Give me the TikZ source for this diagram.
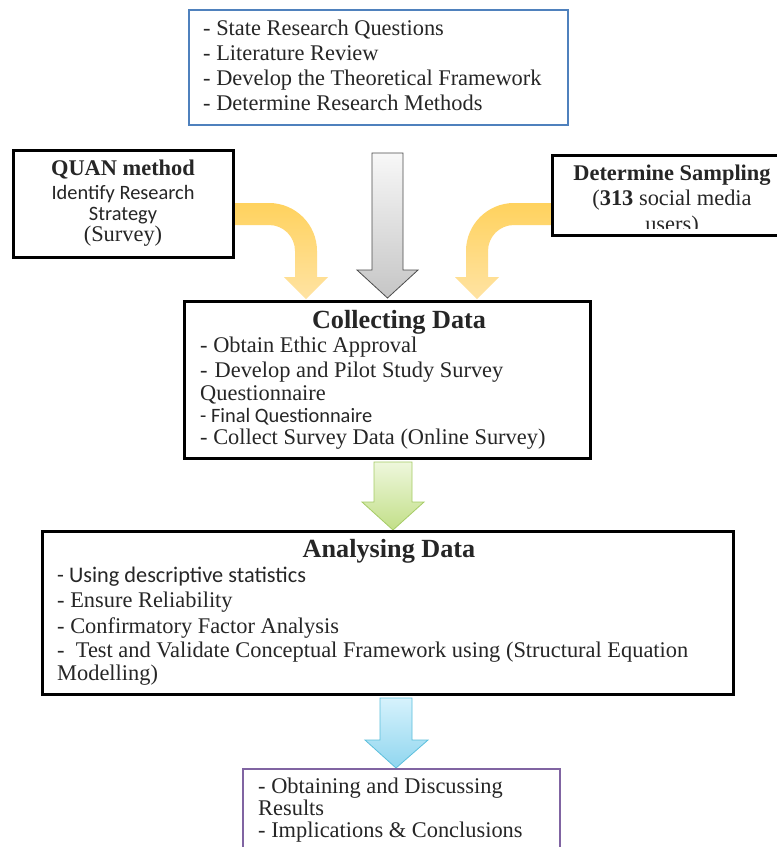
\documentclass[tikz,border=0pt]{standalone}
\usepackage{fontspec}
\setmainfont{Liberation Serif}
\newfontfamily\calfont{Carlito}
\newcommand\serifsz{\fontsize{22.4}{25}\selectfont}
\newcommand\titlesz{\fontsize{26.2}{29}\selectfont\bfseries}
\newcommand\sanssz{\calfont\fontsize{20.4}{25}\selectfont}
\newcommand\sansbig{\calfont\fontsize{22.3}{25}\selectfont}
\definecolor{topblue}{HTML}{4F81BD}
\definecolor{respurple}{HTML}{8064A2}
\definecolor{yelA}{HTML}{FFD25E}
\definecolor{yelB}{HTML}{FFE3A3}
\definecolor{grnA}{HTML}{EEF7DC}
\definecolor{grnB}{HTML}{C2DF88}
\definecolor{grnL}{HTML}{A6CC66}
\definecolor{bluA}{HTML}{D6F2FC}
\definecolor{bluB}{HTML}{90D6EF}
\definecolor{bluL}{HTML}{5BBFDC}
\begin{document}
\begin{tikzpicture}[x=1pt,y=-1pt,
  frame/.style={draw=black, line width=3pt, fill=white, inner sep=0pt, rectangle},
  ln/.style={anchor=base west, inner sep=0pt, font=\serifsz, text=black!85},
  lnc/.style={anchor=base, inner sep=0pt, font=\serifsz, text=black!85},
  sln/.style={anchor=base west, inner sep=0pt, font=\sanssz, text=black!85},
  slnc/.style={anchor=base, inner sep=0pt, font=\sanssz, text=black!85},
  yarrow/.style={top color=yelA, bottom color=yelB, draw=none},
  garrow/.style={top color=gray!6, bottom color=gray!45, draw=gray!60!black, line width=0.8pt},
  grarrow/.style={top color=grnA, bottom color=grnB, draw=grnL, line width=0.8pt},
  barrow/.style={top color=bluA, bottom color=bluB, draw=bluL, line width=0.8pt}]
\useasboundingbox (0,0) rectangle (777,847);
\clip (0,0) rectangle (777,847);
\fill[white] (0,0) rectangle (777,847);

% block arrows (drawn first so the boxes sit on top of their ends)
\path[garrow] (372,153) -- (403,153) -- (403,270) -- (418,270) -- (387.5,298)
  -- (357,270) -- (372,270) -- cycle;
\path[yarrow] (232,203) -- (269,203) .. controls (295.5,203) and (317,224.5) .. (317,251)
  -- (317,277) -- (328,277) -- (306,299) -- (284,277) -- (295,277) -- (295,251)
  .. controls (295,236.6) and (283.4,225) .. (269,225) -- (232,225) -- cycle;
\path[yarrow] (552,203) -- (514,203) .. controls (487.5,203) and (466,224.5) .. (466,251)
  -- (466,277) -- (455,277) -- (477,299) -- (499,277) -- (488,277) -- (488,251)
  .. controls (488,236.6) and (499.6,225) .. (514,225) -- (552,225) -- cycle;
\path[grarrow] (374,462) -- (412,462) -- (412,502) -- (424,502) -- (393,530)
  -- (362,502) -- (374,502) -- cycle;
\path[barrow] (380,698) -- (412,698) -- (412,740) -- (428,740) -- (396,768)
  -- (365,740) -- (380,740) -- cycle;

% boxes
\node[frame, draw=topblue, line width=2.5pt, minimum width=379pt, minimum height=115pt]
  (plan) at (378.5,67.5) {};
\node[frame, minimum width=220pt, minimum height=107pt] (quan) at (123,203.5) {};
\node[frame, minimum width=240pt, minimum height=80pt] (samp) at (672,195) {};
\node[frame, minimum width=406pt, minimum height=157pt] (coll) at (387,379.5) {};
\node[frame, minimum width=691pt, minimum height=163pt] (anal) at (387.5,612.5) {};
\node[frame, draw=respurple, line width=2.5pt, minimum width=317pt, minimum height=100pt]
  (res) at (401.5,819) {};

% research plan
\node[ln] (p1) at (203,35) {- State Research Questions};
\node[ln] (p2) at (203,60) {- Literature Review};
\node[ln] (p3) at (203,85) {- Develop the Theoretical Framework};
\node[ln] (p4) at (203,110) {- Determine Research Methods};

% method
\node[lnc, font=\serifsz\bfseries] (q1) at (123,175) {QUAN method};
\node[slnc] (q2) at (123,199) {Identify Research};
\node[slnc] (q3) at (123,220) {Strategy};
\node[lnc] (q4) at (123,241) {(Survey)};

% sampling (last line cut off by the text area)
\node[lnc, font=\serifsz\bfseries] (s1) at (672,180) {Determine Sampling};
\node[lnc] (s2) at (672,205) {(\textbf{313} social media};
\begin{scope}
  \clip (552,150) rectangle (792,228.5);
  \node[lnc] (s3) at (672,231) {users)};
\end{scope}

% collecting data
\node[lnc, font=\titlesz] (c0) at (399,328) {Collecting Data};
\node[ln] (c1) at (200,352) {- Obtain Ethic Approval};
\node[ln] (c2) at (200,377) {-\hspace{7pt}Develop and Pilot Study Survey};
\node[ln] (c3) at (200,400) {Questionnaire};
\node[sln] (c4) at (200,422) {- Final Questionnaire};
\node[ln] (c5) at (200,444) {- Collect Survey Data (Online Survey)};

% analysing data
\node[lnc, font=\titlesz] (a0) at (389,557) {Analysing Data};
\node[sln, font=\sansbig] (a1) at (57,582) {- Using descriptive statistics};
\node[ln] (a2) at (57,607) {- Ensure Reliability};
\node[ln] (a3) at (57,633) {- Confirmatory Factor Analysis};
\node[ln] (a4) at (57,657) {-\ \ Test and Validate Conceptual Framework using (Structural Equation};
\node[ln] (a5) at (57,680) {Modelling)};

% results
\node[ln] (r1) at (258,793) {- Obtaining and Discussing};
\node[ln] (r2) at (258,815) {Results};
\node[ln] (r3) at (258,837) {- Implications \& Conclusions};
\end{tikzpicture}
\end{document}
